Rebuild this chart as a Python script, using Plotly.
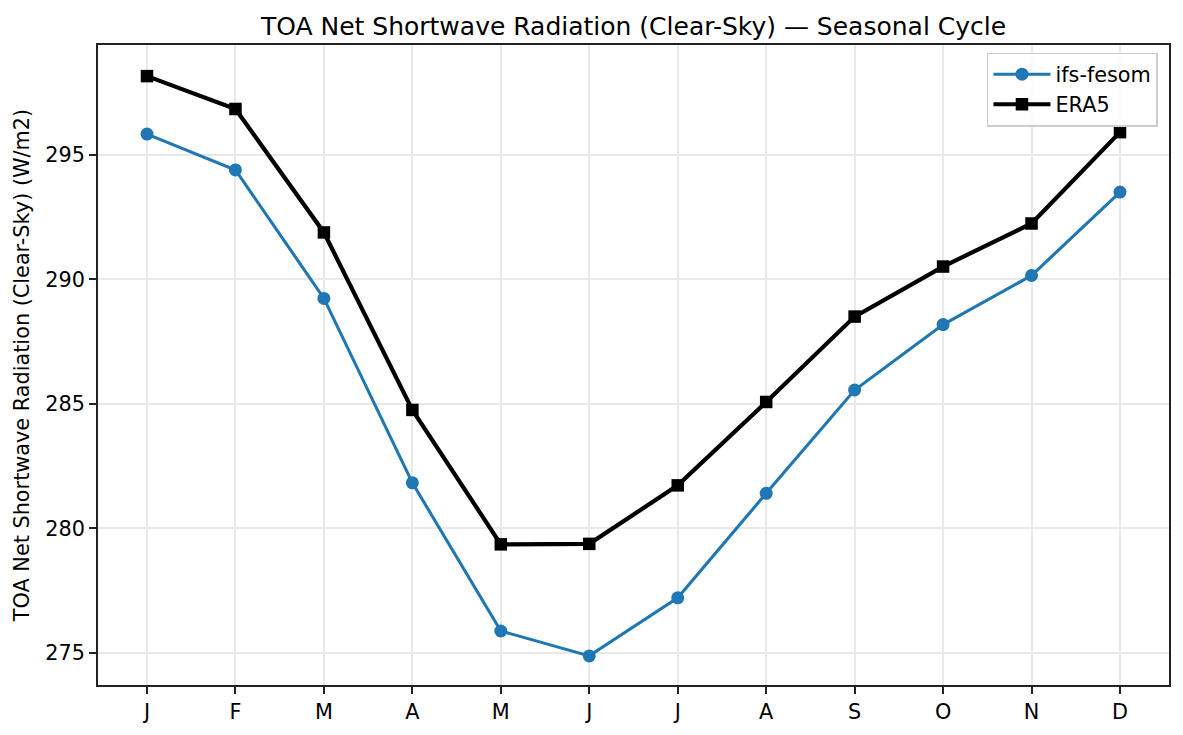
import plotly.graph_objects as go

months = ["J", "F", "M", "A", "M", "J", "J", "A", "S", "O", "N", "D"]
month_idx = list(range(12))
ifs_fesom = [295.84, 294.40, 289.24, 281.83, 275.88, 274.88,
             277.21, 281.41, 285.56, 288.19, 290.16, 293.51]
era5 = [298.17, 296.85, 291.89, 284.76, 279.36, 279.38,
        281.73, 285.08, 288.51, 290.52, 292.25, 295.92]
y_ticks = [275, 280, 285, 290, 295]

FONT = "DejaVu Sans"
W, H = 1175, 727  # page body has an 8px margin

fig = go.Figure()
fig.add_trace(go.Scatter(
    x=month_idx, y=ifs_fesom, name="ifs-fesom", mode="lines+markers",
    line=dict(color="#1f77b4", width=3.1),
    marker=dict(symbol="circle", size=13, color="#1f77b4"),
))
fig.add_trace(go.Scatter(
    x=month_idx, y=era5, name="ERA5", mode="lines+markers",
    line=dict(color="black", width=4.2),
    marker=dict(symbol="square", size=12.5, color="black"),
))

axis_common = dict(
    showline=True, linecolor="#222", linewidth=1.7, mirror=True,
    ticks="outside", ticklen=7, tickwidth=1.7, tickcolor="#222",
    showgrid=True, gridcolor="#e9e9e9", gridwidth=1.6,
    zeroline=False, tickfont=dict(family=FONT, size=20.8, color="black"),
)

fig.update_layout(
    width=W, height=H,
    margin=dict(l=90, r=14, t=37, b=50),
    paper_bgcolor="white", plot_bgcolor="white",
    font=dict(family=FONT, size=20.8, color="black"),
    title=dict(
        text="TOA Net Shortwave Radiation (Clear-Sky) — Seasonal Cycle",
        font=dict(family=FONT, size=25, color="black"),
        x=0.5, xref="paper", xanchor="center",
        y=1 - 18 / H, yref="container", yanchor="middle",
    ),
    xaxis=dict(
        range=[-0.554, 11.554], tickmode="array",
        tickvals=month_idx, ticktext=months, **axis_common,
    ),
    yaxis=dict(
        range=[273.71, 299.42], tickmode="array", tickvals=y_ticks,
        ticktext=[str(v) for v in y_ticks],
        title=dict(text="TOA Net Shortwave Radiation (Clear-Sky) (W/m2)",
                   font=dict(family=FONT, size=20.8, color="black"),
                   standoff=10),
        **axis_common,
    ),
    legend=dict(
        x=0.9897, y=0.988, xanchor="right", yanchor="top",
        bgcolor="rgba(255,255,255,0.8)", bordercolor="#cccccc", borderwidth=1.5,
        font=dict(family=FONT, size=20.8, color="black"),
        tracegroupgap=0, itemwidth=57,
    ),
    showlegend=True,
)

fig.write_html("out.html")
